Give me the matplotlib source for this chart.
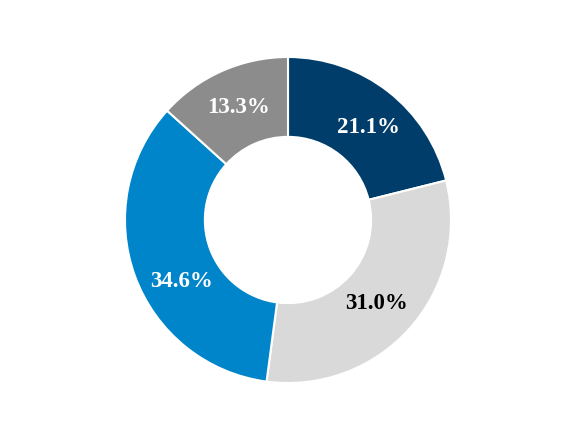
import matplotlib.pyplot as plt

labels = ["A", "B", "C", "D"]
shares = [21.1, 31.0, 34.6, 13.3]
colors = ["#003D6B", "#D9D9D9", "#0085CA", "#8C8C8C"]
text_colors = ["white", "black", "white", "white"]

# small label shifts (axes data units) to mimic the original placement
label_nudge = [(0.03, -0.03), (-0.02, -0.01), (0.055, -0.115), (0.0, 0.0)]

fig = plt.figure(figsize=(5.76, 4.4), dpi=100)
ax = fig.add_axes([0.217, 0.1295, 0.566, 0.741])

wedges, texts, autotexts = ax.pie(
    shares,
    colors=colors,
    startangle=90,
    counterclock=False,
    radius=1.0,
    autopct="%.1f%%",
    pctdistance=0.755,
    wedgeprops=dict(width=0.49, edgecolor="white", linewidth=1.5),
)
for t, c, (dx, dy) in zip(autotexts, text_colors, label_nudge):
    t.set_color(c)
    t.set_fontsize(16.5)
    t.set_fontweight("bold")
    t.set_family(["Liberation Serif", "DejaVu Serif"])
    x, y = t.get_position()
    t.set_position((x + dx, y + dy))

ax.set_xlim(-1, 1)
ax.set_ylim(-1, 1)
ax.axis("off")

fig.savefig("out.png", dpi=100)
